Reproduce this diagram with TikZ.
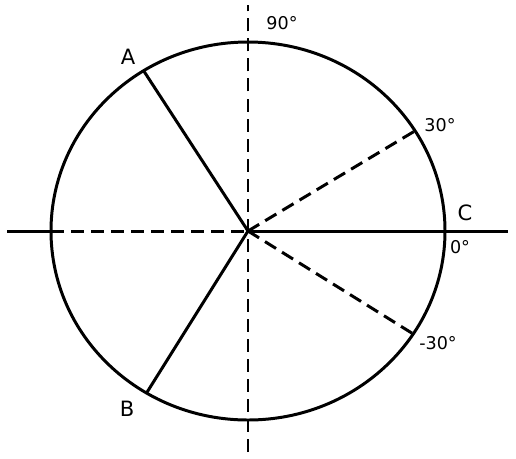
\documentclass[tikz,border=0pt]{standalone}
\usepackage{fontspec}
\setmainfont{DejaVu Sans}
\usetikzlibrary{calc}

\begin{document}
\begin{tikzpicture}[x=0.02cm,y=0.02cm,line width=1.7pt,
    dashline/.style={dash pattern=on 7.4pt off 4pt},
    letter/.style={font=\fontsize{12pt}{14pt}\selectfont,inner sep=0pt},
    degree/.style={font=\fontsize{10pt}{12pt}\selectfont,inner sep=0pt}]
            \useasboundingbox (0,0) rectangle (516,458);
            \coordinate (O) at (248,227);
            \coordinate (A) at ($(O)+(122:197 and 189)$);
            \coordinate (B) at ($(O)+(-121:197 and 189)$);
            \coordinate (P) at ($(O)+(32:197 and 189)$);
            \coordinate (M) at ($(O)+(-33:197 and 189)$);
            \coordinate (W) at (51,227);
            \coordinate (left) at (7,227);
            \coordinate (right) at (508,227);
            \coordinate (top) at (248,453);
            \coordinate (bottom) at (248,6);
            \draw (O) ellipse [x radius=197, y radius=189];
            \draw (left) -- (W);
            \draw [dashline] (W) -- (O);
            \draw (O) -- (right);
            \draw [dashline] (bottom) -- (top);
            \draw (O) -- (A);
            \draw (O) -- (B);
            \draw [dashline] (O) -- (P);
            \draw [dashline] (O) -- (M);
            \node [letter] (la) at (128,401) {A};
            \node [letter] (lb) at (127,49) {B};
            \node [letter] (lc) at (465,245) {C};
            \node [degree] (d90) at (282,435) {90°};
            \node [degree] (d30) at (440,333) {30°};
            \node [degree] (d0) at (460,211) {0°};
            \node [degree] (dm30) at (438,115) {-30°};
        \end{tikzpicture}
\end{document}
